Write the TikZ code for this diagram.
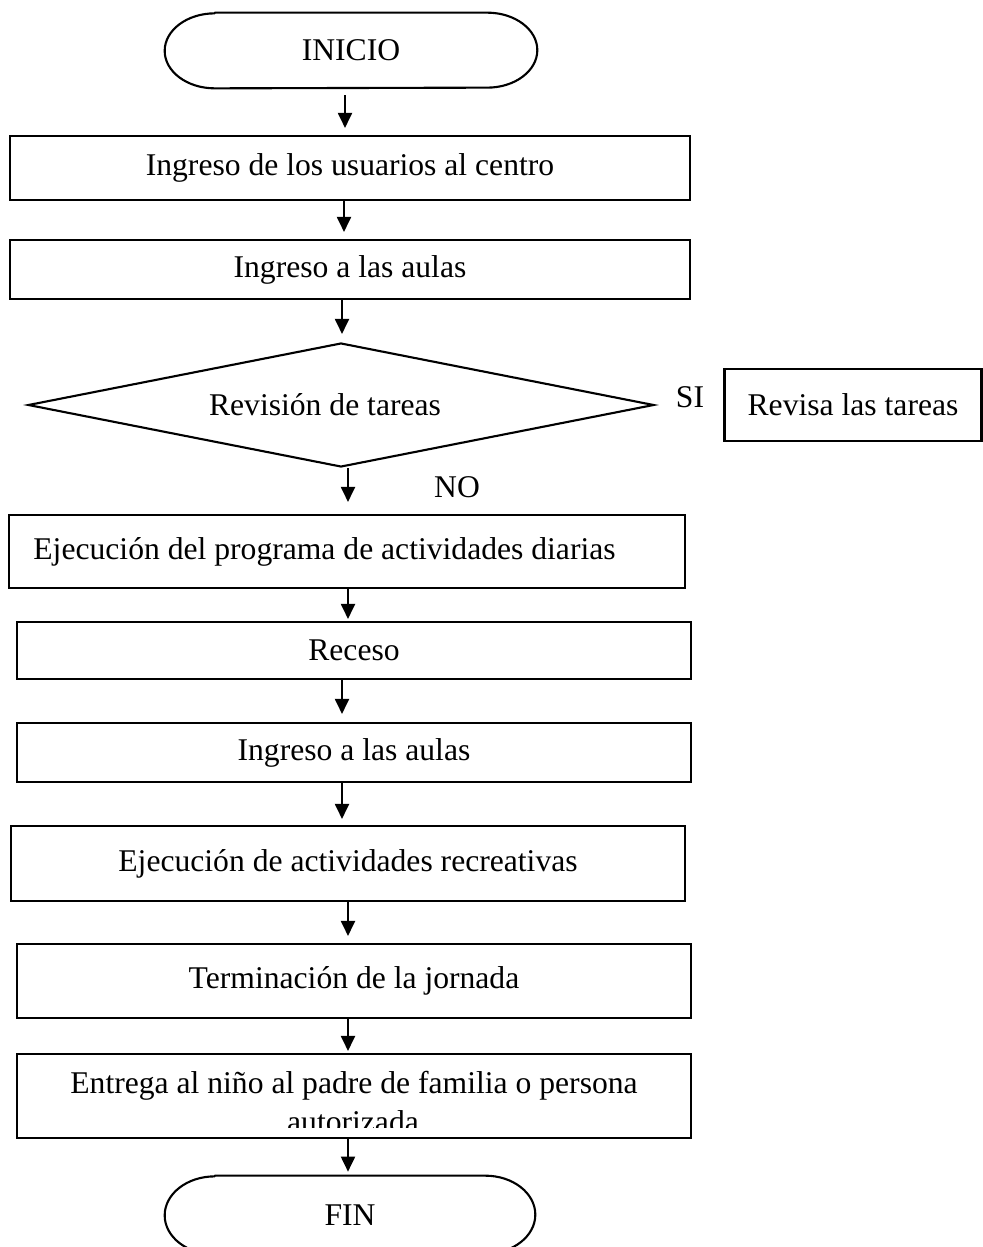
\documentclass[tikz,border=0pt]{standalone}
\usepackage{fontspec}
\setmainfont{Liberation Serif}
\usetikzlibrary{arrows.meta,shapes.geometric}

\begin{document}
\begin{tikzpicture} [x = 0.02cm, y = -0.02cm,
	every node/.style = {font = \fontsize{18}{21}\selectfont},
	box/.style = {draw, line width = 1.2pt, inner sep = 0pt},
	term/.style = {inner sep = 0pt, minimum width = 7.4cm, minimum height = 1.5cm},
	edge/.style = {line width = 1.2pt, line join = round},
	arr/.style = {line width = 1.1pt, -{Triangle[length = 0.3cm, width = 0.28cm]}, shorten > = 0.14cm}]
	\useasboundingbox (0,0) rectangle (983,1247);
	% start and end
	\node (inicio) [term, minimum width = 7.44cm] at (351,50.5) {INICIO};
	\draw [edge] ([xshift = 1cm]inicio.north west) -- ([xshift = -1cm]inicio.north east)
		arc [start angle = 90, end angle = -90, x radius = 1cm, y radius = 0.75cm]
		-- ([xshift = 1cm]inicio.south west)
		arc [start angle = 270, end angle = 90, x radius = 1cm, y radius = 0.75cm] -- cycle;
	\node (fin) [term, minimum height = 1.56cm] at (350,1215) {FIN};
	\draw [edge] ([xshift = 1cm]fin.north west) -- ([xshift = -1cm]fin.north east)
		arc [start angle = 90, end angle = -90, x radius = 1cm, y radius = 0.78cm]
		-- ([xshift = 1cm]fin.south west)
		arc [start angle = 270, end angle = 90, x radius = 1cm, y radius = 0.78cm] -- cycle;
	% steps
	\node (usuarios) [box, minimum width = 13.6cm, minimum height = 1.28cm] at (350,168) {Ingreso de los usuarios al centro};
	\node (aulas) [box, minimum width = 13.6cm, minimum height = 1.18cm] at (350,269.5) {Ingreso a las aulas};
	\node (tareas) [draw, diamond, line width = 1.2pt, inner sep = 0pt, shape aspect = 5, minimum width = 12.52cm, minimum height = 2.48cm] at (341,405) {Revisión de tareas\hspace*{0.64cm}};
	\node (revisa) [box, minimum width = 5.14cm, minimum height = 1.44cm] at (853,405) {Revisa las tareas};
	\node (si) at (690,397) {SI};
	\node (programa) [box, minimum width = 13.52cm, minimum height = 1.46cm] at (347,551.5) {Ejecución del programa de actividades diarias\hspace*{0.9cm}};
	\node (no) at (457,487) {NO};
	\node (receso) [box, minimum width = 13.48cm, minimum height = 1.14cm] at (354,650.5) {Receso};
	\node (aulasdos) [box, minimum width = 13.48cm, minimum height = 1.18cm] at (354,752.5) {Ingreso a las aulas};
	\node (recreativas) [box, minimum width = 13.48cm, minimum height = 1.5cm] at (348,863.5) {Ejecución de actividades recreativas};
	\node (jornada) [box, minimum width = 13.48cm, minimum height = 1.48cm] at (354,981) {Terminación de la jornada};
	\node (entrega) [box, minimum width = 13.48cm, minimum height = 1.68cm] at (354,1096) {};
	\node (entregatxt) [anchor = base] at (354,1093) {Entrega al niño al padre de familia o persona};
	\begin{scope}
		\clip (17,1060) rectangle (691,1127);
		\node (autorizada) [anchor = base] at (353,1132) {autorizada};
	\end{scope}
	% arrows
	\draw [arr, shorten < = 0.14cm] (inicio.south -| 345,0) -- (usuarios.north -| 345,0);
	\draw [arr] (usuarios.south -| 344,0) -- (aulas.north -| 344,0);
	\draw [arr, shorten > = 0.16cm] (aulas.south -| 342,0) -- (tareas.north -| 342,0);
	\draw [arr, shorten > = 0.24cm] (tareas.south -| 348,0) -- (programa.north -| 348,0);
	\draw [arr, shorten > = 0.04cm] (programa.south -| 348,0) -- (receso.north -| 348,0);
	\draw [arr, shorten > = 0.16cm] (receso.south -| 342,0) -- (aulasdos.north -| 342,0);
	\draw [arr, shorten > = 0.12cm] (aulasdos.south -| 342,0) -- (recreativas.north -| 342,0);
	\draw [arr] (recreativas.south -| 348,0) -- (jornada.north -| 348,0);
	\draw [arr, shorten > = 0.04cm] (jornada.south -| 348,0) -- (entrega.north -| 348,0);
	\draw [arr, shorten > = 0.08cm] (entrega.south -| 348,0) -- (fin.north -| 348,0);
\end{tikzpicture}
\end{document}
